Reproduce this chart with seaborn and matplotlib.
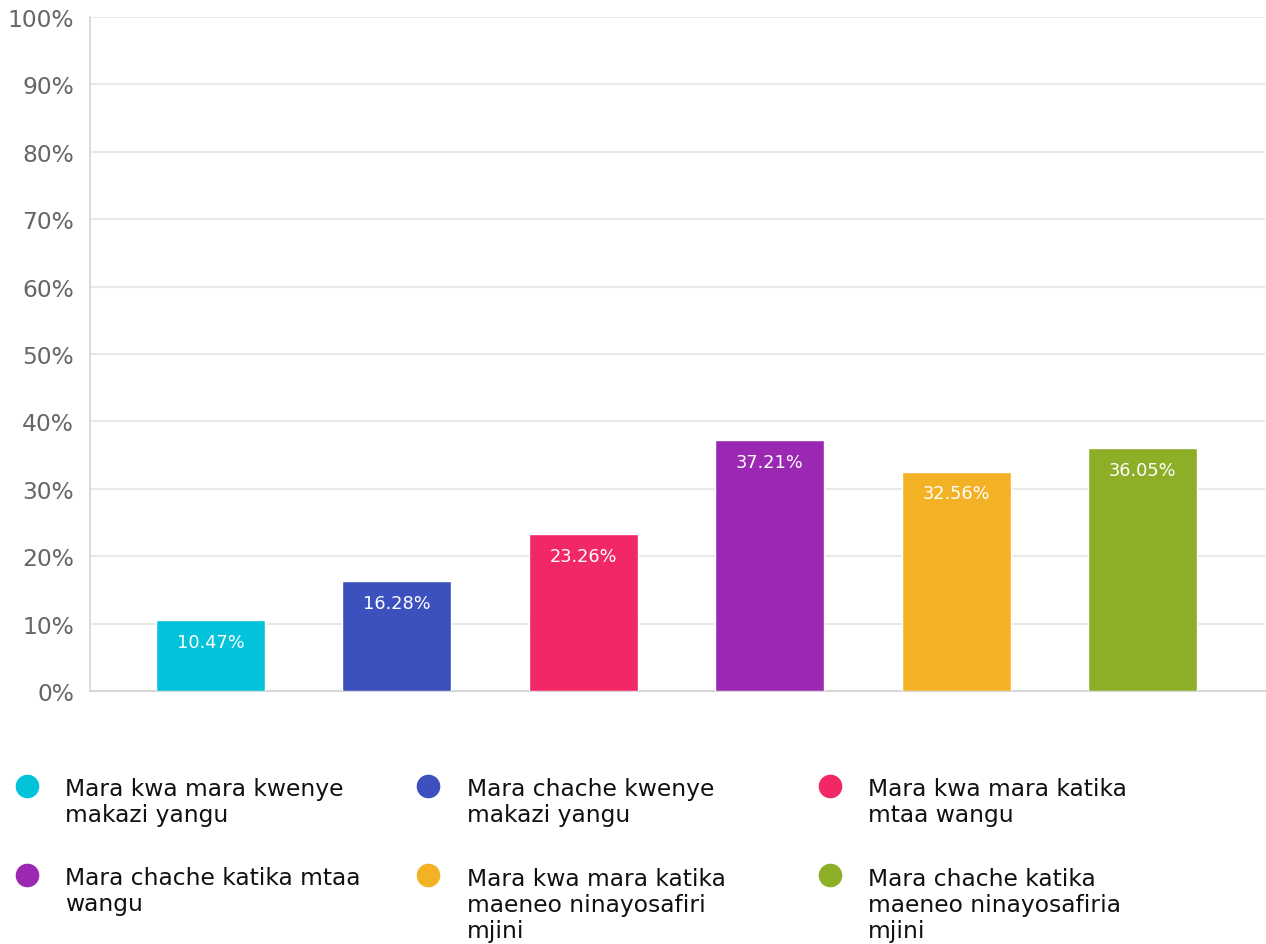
import matplotlib
matplotlib.use("Agg")
import matplotlib.pyplot as plt
import seaborn as sns
import pandas as pd
from matplotlib.lines import Line2D

# === data ===
categories = [
    "Mara kwa mara kwenye makazi yangu",
    "Mara chache kwenye makazi yangu",
    "Mara kwa mara katika mtaa wangu",
    "Mara chache katika mtaa wangu",
    "Mara kwa mara katika maeneo ninayosafiri mjini",
    "Mara chache katika maeneo ninayosafiria mjini",
]
legend_labels = [
    "Mara kwa mara kwenye\nmakazi yangu",
    "Mara chache kwenye\nmakazi yangu",
    "Mara kwa mara katika\nmtaa wangu",
    "Mara chache katika mtaa\nwangu",
    "Mara kwa mara katika\nmaeneo ninayosafiri\nmjini",
    "Mara chache katika\nmaeneo ninayosafiria\nmjini",
]
values = [10.47, 16.28, 23.26, 37.21, 32.56, 36.05]
colors = ["#03C3DA", "#3C51BE", "#F22765", "#9B28B3", "#F3B225", "#8DAF28"]
yticks = [0, 10, 20, 30, 40, 50, 60, 70, 80, 90, 100]

df = pd.DataFrame({"category": categories, "value": values})

sns.set_style("white")
plt.rcParams["font.family"] = ["DejaVu Sans"]

fig = plt.figure(figsize=(12.66, 9.45), dpi=100)
ax = fig.add_axes([90 / 1266, 1 - 692 / 945, 1175 / 1266, 674 / 945])

sns.barplot(data=df, x="category", y="value", hue="category",
            palette=colors, legend=False, width=0.585, saturation=1,
            ax=ax, zorder=3)

ax.set_xlim(-0.646, 5.657)
ax.set_ylim(0, 100)
ax.set_yticks(yticks)
ax.set_yticklabels([f"{t}%" for t in yticks])
ax.set_xticks([])
ax.set_xlabel("")
ax.set_ylabel("")
ax.grid(axis="y", color="#e8e8e8", linewidth=1.5, zorder=0)
ax.tick_params(axis="y", length=5, color="#e0e0e0", width=1.2, pad=6.5,
               labelsize=16.8, labelcolor="#666666")
for side in ["top", "right"]:
    ax.spines[side].set_visible(False)
ax.spines["left"].set_color("#d6d6d6")
ax.spines["bottom"].set_color("#d6d6d6")
ax.spines["left"].set_linewidth(1.2)
ax.spines["bottom"].set_linewidth(1.5)

# value labels inside bars
for i, v in enumerate(values):
    ax.annotate(f"{v:.2f}%", (i, v), xytext=(0, -15.5), textcoords="offset points",
                ha="center", va="center", color="white", fontsize=12.8, zorder=4)

# legend, laid out row by row (first-line baselines at 795.5px and 884.5px)
col_marker_x = [27 / 1266, 428 / 1266, 830 / 1266]
col_text_x = [65 / 1266, 467 / 1266, 868 / 1266]
row_marker_px = [787, 876]
row_base_px = [795.5, 884.5]
line_px = 27
for k, (lab, col) in enumerate(zip(legend_labels, colors)):
    r, c = divmod(k, 3)
    n_lines = lab.count("\n") + 1
    last_base = row_base_px[r] + (n_lines - 1) * line_px
    fig.add_artist(Line2D([col_marker_x[c]], [1 - row_marker_px[r] / 945], marker="o",
                          markersize=16, color=col, linestyle="none",
                          transform=fig.transFigure))
    fig.text(col_text_x[c], 1 - last_base / 945, lab, ha="left", va="baseline",
             fontsize=16.8, color="#111111", linespacing=1.17)

fig.savefig("out.png", dpi=100)
